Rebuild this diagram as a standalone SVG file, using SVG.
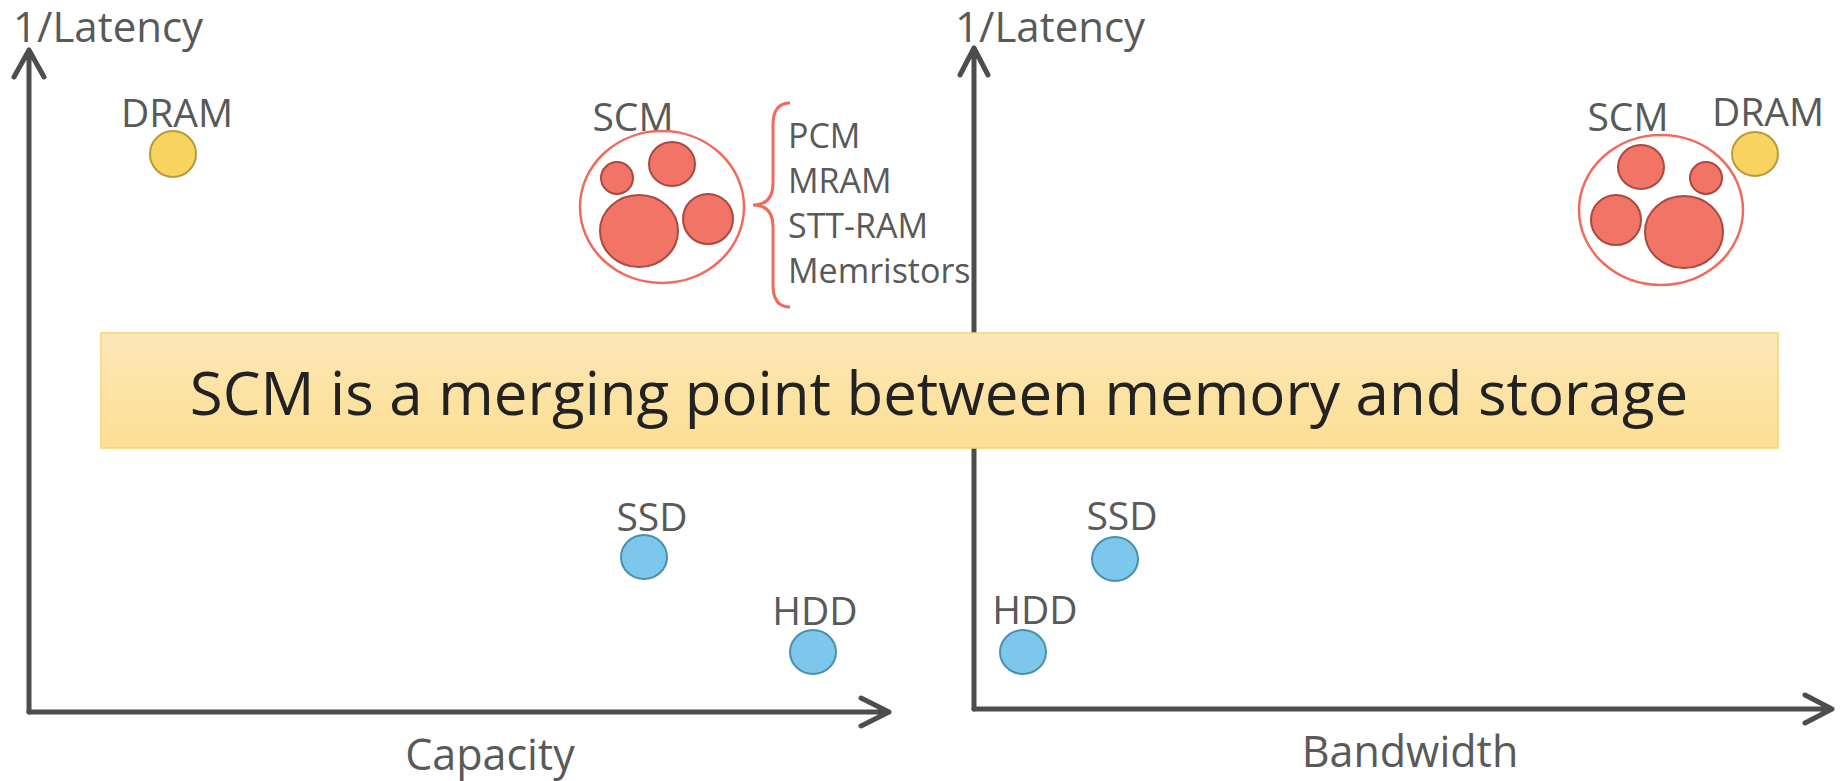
<svg xmlns="http://www.w3.org/2000/svg" width="1841" height="781" viewBox="0 0 1841 781">
<style>
.lbl{font-family:"Open Sans","Noto Sans","Liberation Sans",sans-serif;fill:#595959;font-weight:400}
.ax{stroke:#4d4d4d;stroke-width:5;fill:none;stroke-linecap:round;stroke-linejoin:round}
.dram{fill:#f8d35f;stroke:#b89a3c;stroke-width:2}
.blue{fill:#7dc7ec;stroke:#4b8fae;stroke-width:2}
.scm{fill:#f27467;stroke:#a84a40;stroke-width:2}
.ring{fill:#fff;stroke:#f06b5c;stroke-width:2.5}
</style>
<defs>
<linearGradient id="bg" x1="0" y1="0" x2="0" y2="1">
<stop offset="0" stop-color="#fce7b8"/>
<stop offset="1" stop-color="#fcdf92"/>
</linearGradient>
</defs>
<g id="connectors">
<path class="ax" d="M29,712 L29,50 M14,77 L29,50 L44,77"/>
<path class="ax" d="M29,712 L889,712 M861,698 L889,712 L861,726"/>
<path class="ax" d="M974,709 L974,48 M960,75 L974,48 L988,75"/>
<path class="ax" d="M974,709 L1832,709 M1805,695 L1832,709 L1805,723"/>
</g>
<g id="axis-labels">
<text class="lbl" x="13" y="42" font-size="42">1/Latency</text>
<text class="lbl" x="955" y="42" font-size="42">1/Latency</text>
<text class="lbl" x="490" y="770" font-size="43" text-anchor="middle">Capacity</text>
<text class="lbl" x="1410" y="767" font-size="43" text-anchor="middle">Bandwidth</text>
</g>
<g id="left-dram">
<text class="lbl" x="177" y="127" font-size="39" text-anchor="middle">DRAM</text>
<circle class="dram" cx="173" cy="154" r="23"/>
</g>
<g id="left-scm">
<text class="lbl" x="633" y="131" font-size="39" text-anchor="middle">SCM</text>
<ellipse class="ring" cx="662" cy="207" rx="82" ry="76"/>
<circle class="scm" cx="617" cy="178" r="16"/>
<ellipse class="scm" cx="672" cy="164" rx="23" ry="22"/>
<ellipse class="scm" cx="639" cy="231" rx="39" ry="36"/>
<circle class="scm" cx="708" cy="219" r="25"/>
</g>
<g id="scm-list">
<path d="M790,103 Q773,103 773,125 L773,183 Q773,205 753,205 Q773,205 773,227 L773,285 Q773,307 790,307" fill="none" stroke="#f06b5c" stroke-width="3"/>
<text class="lbl" x="788" y="148" font-size="34">PCM</text>
<text class="lbl" x="788" y="193" font-size="34">MRAM</text>
<text class="lbl" x="788" y="238" font-size="34">STT-RAM</text>
<text class="lbl" x="788" y="283" font-size="34">Memristors</text>
</g>
<g id="left-ssd">
<text class="lbl" x="652" y="531" font-size="39" text-anchor="middle">SSD</text>
<ellipse class="blue" cx="644" cy="557" rx="23" ry="22"/>
</g>
<g id="left-hdd">
<text class="lbl" x="815" y="625" font-size="39" text-anchor="middle">HDD</text>
<ellipse class="blue" cx="813" cy="652" rx="23" ry="22"/>
</g>
<g id="right-scm">
<text class="lbl" x="1628" y="131" font-size="39" text-anchor="middle">SCM</text>
<ellipse class="ring" cx="1661" cy="210" rx="82" ry="75"/>
<ellipse class="scm" cx="1641" cy="167" rx="23" ry="22"/>
<circle class="scm" cx="1706" cy="178" r="16"/>
<circle class="scm" cx="1616" cy="220" r="25"/>
<ellipse class="scm" cx="1684" cy="232" rx="39" ry="36"/>
</g>
<g id="right-dram">
<text class="lbl" x="1768" y="126" font-size="39" text-anchor="middle">DRAM</text>
<ellipse class="dram" cx="1755" cy="154" rx="23" ry="22"/>
</g>
<g id="right-ssd">
<text class="lbl" x="1122" y="530" font-size="39" text-anchor="middle">SSD</text>
<ellipse class="blue" cx="1115" cy="559" rx="23" ry="22"/>
</g>
<g id="right-hdd">
<text class="lbl" x="1035" y="624" font-size="39" text-anchor="middle">HDD</text>
<ellipse class="blue" cx="1023" cy="652" rx="23" ry="22"/>
</g>
<g id="banner">
<rect x="101" y="333" width="1677" height="115" fill="url(#bg)" stroke="#f9d46c" stroke-width="1.5"/>
<text x="939" y="415" font-size="60" text-anchor="middle" font-family="'Open Sans','Noto Sans','Liberation Sans',sans-serif" fill="#222">SCM is a merging point between memory and storage</text>
</g>
</svg>
